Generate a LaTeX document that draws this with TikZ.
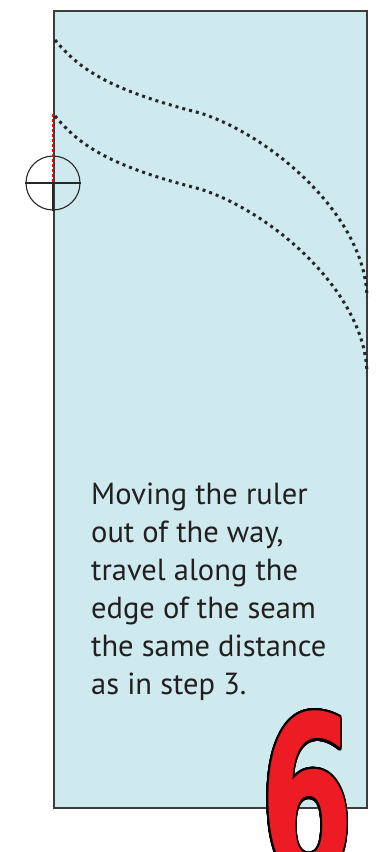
\documentclass[tikz,border=0pt]{standalone}
\usepackage{xcolor}
\usepackage{fontspec}
\usepackage{graphicx}
\usepackage{contour}
\setmainfont{PT Sans}
\newfontfamily\numfont{DejaVu Sans}
\definecolor{seamblue}{RGB}{206, 234, 238}
\definecolor{darkgray}{RGB}{60, 60, 60}
\definecolor{textgray}{RGB}{35, 31, 32}
\definecolor{stepred}{RGB}{237, 28, 36}
\contourlength{2.5pt}
\contournumber{32}

\begin{document}
\begin{tikzpicture}[x=1pt, y=-1pt,
		seamline/.style={line width=3, dash pattern=on 3 off 4, black!85}]
			\useasboundingbox (0, 0) rectangle (390, 852);
			
			% FABRIC PANEL
			\draw[darkgray, fill=seamblue, line width=1.2] (54, 11) rectangle (367, 808);
			
			% SEAM CURVES
			\draw[seamline] (55, 40) .. controls (80, 70) and (110, 90) .. (200, 113) .. controls (270, 135) and (365, 215) .. (367, 297);
			\draw[seamline] (55, 116) .. controls (80, 146) and (110, 166) .. (200, 189) .. controls (270, 211) and (365, 291) .. (367, 373);
			
			% RULER MARK
			\node[draw, circle, minimum size=54, inner sep=0, line width=1.1, black!85] (marker) at (53, 183) {};
			\coordinate (marktop) at (53, 114);
			\draw[black!85, line width=1.1] (marker.west) -- (marker.east);
			\draw[black!85, line width=2] (marker.center) -- (marker.south);
			\draw[red, line width=1.5, dash pattern=on 3 off 2] (marktop) -- (marker.center);
			
			% INSTRUCTION
			\node[textgray, font=\fontsize{30.5}{38}\selectfont, align=left, anchor=north west, inner sep=0] (note) at (91, 483) {Moving the ruler\\out of the way,\\travel along the\\edge of the seam\\the same distance\\as in step 3.};
			
			% STEP NUMBER
			\node[stepred, font=\numfont\bfseries\fontsize{225}{225}\selectfont, anchor=north west, inner sep=0] (stepnum) at (260, 711) {\scalebox{0.6}[1]{\contour{black}{6}}};
			
		\end{tikzpicture}
\end{document}
